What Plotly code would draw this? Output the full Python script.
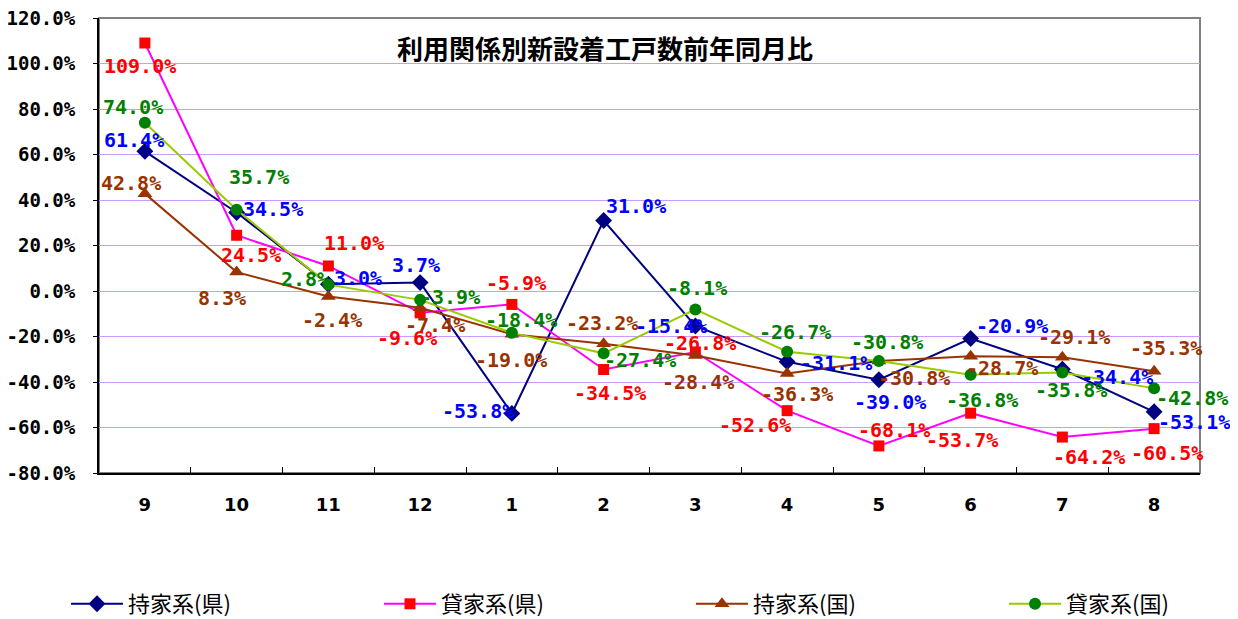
import plotly.graph_objects as go

months = ["9", "10", "11", "12", "1", "2", "3", "4", "5", "6", "7", "8"]

mochi_ken = [61.4, 34.5, 3.0, 3.7, -53.8, 31.0, -15.4, -31.1, -39.0, -20.9, -34.4, -53.1]
kashi_ken = [109.0, 24.5, 11.0, -9.6, -5.9, -34.5, -26.8, -52.6, -68.1, -53.7, -64.2, -60.5]
mochi_kuni = [42.8, 8.3, -2.4, -7.4, -19.0, -23.2, -28.4, -36.3, -30.8, -28.7, -29.1, -35.3]
kashi_kuni = [74.0, 35.7, 2.8, -3.9, -18.4, -27.4, -8.1, -26.7, -30.8, -36.8, -35.8, -42.8]

series_names = ["持家系(県)", "貸家系(県)", "持家系(国)", "貸家系(国)"]
title_text = "利用関係別新設着工戸数前年同月比"
y_ticks = [120, 100, 80, 60, 40, 20, 0, -20, -40, -60, -80]

# label offsets in pixels (dx, dy) where dy positive = down
off_a = [(-11, -11), (36, -4), (30, -6), (-4, -18), (-34, -2), (32, -14), (-24, 0), (49, 1), (11, 22), (41, -13), (55, 8), (40, 10)]
off_b = [(-5, 23), (14, 20), (26, -23), (-13, 25), (4, -21), (6, 24), (5, -9), (-32, 14), (15, -16), (-9, 27), (27, 20), (13, 24)]
off_c = [(-14, -11), (-15, 26), (4, 24), (15, 17), (-1, 26), (-2, -21), (3, 26), (10, 20), (35, 17), (31, 12), (12, -20), (12, -23)]
off_d = [(-12, -16), (22, -33), (-23, -6), (30, -3), (9, -13), (36, 7), (2, -21), (8, -20), (8, -19), (11, 25), (9, 18), (38, 10)]

specs = [
    (mochi_ken, series_names[0], "#000080", "#000080", "diamond", 13, "#0000FF", off_a),
    (kashi_ken, series_names[1], "#FF00FF", "#FF0000", "square", 11, "#FF0000", off_b),
    (mochi_kuni, series_names[2], "#993300", "#993300", "triangle-up", 13, "#993300", off_c),
    (kashi_kuni, series_names[3], "#99CC00", "#008000", "circle", 12, "#008000", off_d),
]

# page has an 8px body margin; the figure is sized to compensate
W, H = 1230, 611
ML, MR, MT, MB = 91, 38, 10, 146
PW, PH = W - ML - MR, H - MT - MB
OFF = 8

def px_x(x):
    return (x - OFF - ML) / PW

def px_y(y):
    return (H - MB - (y - OFF)) / PH

legend_ids = ["legend", "legend2", "legend3", "legend4"]
legend_x = [66, 379, 691, 1004]

fig = go.Figure()
annotations = []
label_font = "DejaVu Sans Mono"
for k, (vals, name, lc, mc, sym, ms, tc, offs) in enumerate(specs):
    fig.add_trace(go.Scatter(
        x=months, y=vals, name=name, mode="lines+markers",
        line=dict(color=lc, width=2),
        marker=dict(symbol=sym, size=ms, color=mc, line=dict(width=0)),
        legend=legend_ids[k],
    ))
    for i, (v, (dx, dy)) in enumerate(zip(vals, offs)):
        annotations.append(dict(
            x=i, y=v, xref="x", yref="y", text=f"{v:.1f}%", showarrow=False,
            xshift=dx, yshift=-dy,
            font=dict(family=label_font, size=20, color=tc, weight="bold"),
        ))

annotations.append(dict(
    x=px_x(605), y=px_y(47), xref="paper", yref="paper",
    text=title_text, showarrow=False, xanchor="center", yanchor="middle",
    font=dict(family="Noto Sans CJK JP", size=26, color="#000000", weight="bold"),
))

legend_font = dict(family="Noto Sans CJK JP", size=22, color="#000000")
layout_legends = {}
for k, lid in enumerate(legend_ids):
    layout_legends[lid] = dict(
        orientation="h", x=px_x(legend_x[k]), xanchor="left",
        y=px_y(604), yanchor="middle", font=legend_font, itemwidth=52,
        bgcolor="rgba(0,0,0,0)",
    )

fig.update_layout(
    width=W, height=H,
    margin=dict(l=ML, r=MR, t=MT, b=MB, autoexpand=False),
    paper_bgcolor="white", plot_bgcolor="white",
    annotations=annotations,
    showlegend=True,
    **layout_legends,
)
fig.update_xaxes(
    type="category", range=[-0.5, 11.5], automargin=False,
    showgrid=False, showline=True, linecolor="#000000", linewidth=2,
    mirror=False, ticks="inside", tickson="boundaries", ticklen=6, tickcolor="#000000",
    tickfont=dict(family="DejaVu Sans", size=18, color="#000000", weight="bold"),
    ticklabelstandoff=14,
)
fig.update_yaxes(
    range=[-80, 120], tickvals=y_ticks, ticktext=[f"{t:.1f}%" for t in y_ticks],
    automargin=False, ticklabeloverflow="allow",
    showgrid=True, gridcolor="#CC99FF", gridwidth=1, zeroline=False,
    showline=True, linecolor="#000000", linewidth=2, ticks="outside", ticklen=4,
    tickcolor="#000000", ticklabelstandoff=14,
    tickfont=dict(family="DejaVu Sans Mono", size=19, color="#000000", weight="bold"),
)
fig.add_shape(type="rect", xref="paper", yref="paper", x0=0, y0=0, x1=1, y1=1,
              line=dict(color="#808080", width=2), layer="below")

fig.write_html("out.html")
